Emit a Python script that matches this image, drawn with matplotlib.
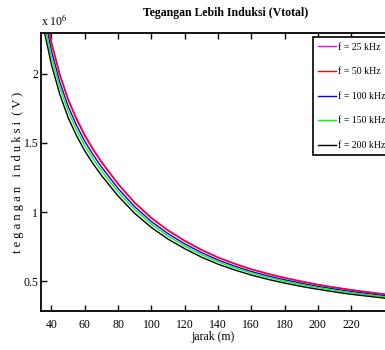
import numpy as np
import matplotlib
matplotlib.use("Agg")
import matplotlib.pyplot as plt
from matplotlib.ticker import FuncFormatter

# jarak (m)
jarak = [35, 40, 45, 50, 55, 60, 65, 70, 75, 80, 90, 100, 110, 120, 130,
         140, 150, 160, 170, 180, 190, 200, 210, 220, 230, 240]

# tegangan induksi (V) (x 1e6)
v_25k = [2.53, 2.23, 2.00, 1.82, 1.68, 1.56, 1.457, 1.367, 1.286, 1.206, 1.070, 0.960, 0.869,
         0.794, 0.729, 0.673, 0.628, 0.588, 0.555, 0.526, 0.500, 0.476, 0.456, 0.438, 0.422, 0.407]
v_50k = [2.52, 2.22, 1.99, 1.81, 1.67, 1.55, 1.45, 1.36, 1.28, 1.20, 1.065, 0.955, 0.865,
         0.790, 0.725, 0.670, 0.625, 0.585, 0.552, 0.523, 0.497, 0.474, 0.454, 0.436, 0.420, 0.405]
v_100k = [2.457, 2.165, 1.940, 1.765, 1.628, 1.511, 1.414, 1.326, 1.248, 1.170, 1.038, 0.931, 0.843,
          0.770, 0.707, 0.653, 0.609, 0.570, 0.538, 0.510, 0.485, 0.462, 0.443, 0.425, 0.410, 0.395]
v_150k = [2.407, 2.120, 1.900, 1.729, 1.595, 1.480, 1.385, 1.299, 1.222, 1.146, 1.017, 0.912, 0.826,
          0.754, 0.692, 0.640, 0.597, 0.559, 0.527, 0.499, 0.475, 0.453, 0.434, 0.416, 0.401, 0.387]
v_200k = [2.344, 2.065, 1.851, 1.683, 1.553, 1.442, 1.349, 1.265, 1.190, 1.116, 0.990, 0.888, 0.804,
          0.735, 0.674, 0.623, 0.581, 0.544, 0.513, 0.486, 0.462, 0.441, 0.422, 0.405, 0.391, 0.377]

labels = ["f = 25 kHz", "f = 50 kHz", "f = 100 kHz", "f = 150 kHz", "f = 200 kHz"]
colors = ["#ff00ff", "#ff0000", "#0000ff", "#00ff00", "#000000"]
xticks = [40, 60, 80, 100, 120, 140, 160, 180, 200, 220]
yticks = [0.5e6, 1e6, 1.5e6, 2e6]

plt.rcParams["font.family"] = "Liberation Serif"
plt.rcParams["mathtext.fontset"] = "stix"

fig = plt.figure(figsize=(3.85, 3.5), dpi=100)
ax = fig.add_axes([0.1065, 0.1114, 0.8935, 0.7943])

series = [v_25k, v_50k, v_100k, v_150k, v_200k]
for vals, lab, col in zip(series, labels, colors):
    ax.plot(jarak, np.array(vals) * 1e6, color=col, linewidth=1.0, label=lab)

ax.set_xlim(33.7, 240.3)
ax.set_ylim(0.284e6, 2.295e6)
ax.set_xticks(xticks)
ax.set_yticks(yticks)
ax.yaxis.set_major_formatter(FuncFormatter(lambda v, p: f"{v / 1e6:g}"))
ax.tick_params(direction="in", length=4, width=1, labelsize=8.5, top=True, right=False)
ax.tick_params(axis="x", pad=6)
ax.tick_params(axis="y", pad=2)
for side in ["left", "bottom", "top"]:
    ax.spines[side].set_linewidth(1.3)
ax.spines["right"].set_visible(False)

ax.set_xlabel("jarak (m)", fontsize=8.5, labelpad=0)
ax.set_ylabel("t e g a n g a n   i n d u k s i  ( V )", fontsize=9)
ax.yaxis.set_label_coords(-0.05, 0.5)
fig.text(0.107, 0.928, r"x 10$^6$", fontsize=8.5)
fig.text(0.585, 0.962, "Tegangan Lebih Induksi (Vtotal)", fontsize=8.5,
         fontweight="bold", ha="center", va="center")

leg = ax.legend(loc="upper left", bbox_to_anchor=(0.813, 0.893), bbox_transform=fig.transFigure,
                fontsize=7, handlelength=1.8, handletextpad=0.2, labelspacing=1.6,
                borderpad=0.55, borderaxespad=0, fancybox=False, framealpha=1, edgecolor="black")
leg.get_frame().set_linewidth(1.2)

fig.savefig("out.png", dpi=100)
